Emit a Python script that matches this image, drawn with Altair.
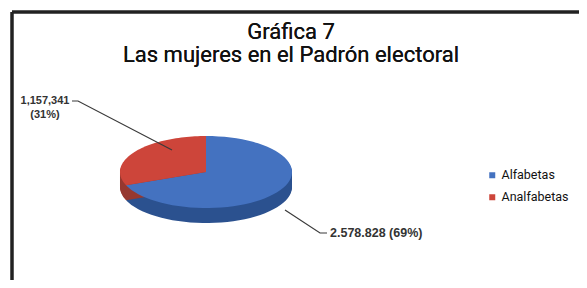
import altair as alt
import pandas as pd

# ---- data ----
categories = ["Alfabetas", "Analfabetas"]
values = [2578828, 1157341]
value_labels = ["2.578.828 (69%)", "1,157,341\n(31%)"]
pie_order = [1, 0]          # Analfabetas slice starts at 12 o'clock
title_lines = ["Gráfica 7", "Las mujeres en el Padrón electoral"]

# ---- layout (chart pixel space) ----
W, H = 571, 272
CX, CY, RX, RY, DEPTH = 198, 164, 86, 36, 15
top_colors = ["#4472c0", "#cd453a"]
side_colors = ["#2b518f", "#963830"]
FONT = "Roboto"

df = pd.DataFrame({"cat": categories, "value": values, "ord": pie_order})

xs = alt.Scale(domain=[0, W], range=[0, W])
ys = alt.Scale(domain=[0, H], range=[0, H])

base = alt.Chart(df).transform_joinaggregate(
    total="sum(value)"
).transform_window(
    cum="sum(value)", sort=[alt.SortField("ord")]
).transform_calculate(
    a0="(90 + 360*(datum.cum - datum.value)/datum.total) * PI / 180",
    a1="(90 + 360*datum.cum/datum.total) * PI / 180",
    k="sequence(-1, 61)",
).transform_flatten(["k"]).transform_calculate(
    ang="datum.a0 + (datum.a1 - datum.a0) * max(datum.k, 0) / 60",
    px=f"datum.k < 0 ? {CX} : {CX} + {RX} * cos(datum.ang)",
    py0=f"datum.k < 0 ? {CY} : {CY} - {RY} * sin(datum.ang)",
)

side = base.transform_calculate(
    z=f"sequence(1, {DEPTH + 1})"
).transform_flatten(["z"]).transform_calculate(
    py="datum.py0 + datum.z"
).mark_line(filled=True, interpolate="linear-closed", strokeWidth=0).encode(
    x=alt.X("px:Q", scale=xs, axis=None),
    y=alt.Y("py:Q", scale=ys, axis=None),
    order="k:Q",
    detail="z:N",
    color=alt.Color("cat:N", scale=alt.Scale(domain=categories, range=side_colors), legend=None),
)

top = base.mark_line(filled=True, interpolate="linear-closed", strokeWidth=0).encode(
    x=alt.X("px:Q", scale=xs, axis=None),
    y=alt.Y("py0:Q", scale=ys, axis=None),
    order="k:Q",
    fill=alt.Fill(
        "cat:N",
        scale=alt.Scale(domain=categories, range=top_colors),
        legend=alt.Legend(
            title=None, orient="none", legendX=478, legendY=161,
            symbolType="square", symbolSize=36, symbolStrokeWidth=0,
            labelFont=FONT, labelFontSize=12.5, labelColor="#111",
            rowPadding=9, labelOffset=3,
        ),
    ),
)

# leader lines (annotation layout)
leaders = pd.DataFrame({
    "cat": ["Analfabetas"] * 3 + ["Alfabetas"] * 3,
    "i": [0, 1, 2, 0, 1, 2],
    "lx": [64, 70, 164, 277, 312, 319],
    "ly": [93, 93, 142, 202, 225, 225],
})
lead = alt.Chart(leaders).mark_line(color="#3a3a3a", strokeWidth=1.2).encode(
    x=alt.X("lx:Q", scale=xs, axis=None),
    y=alt.Y("ly:Q", scale=ys, axis=None),
    order="i:Q",
    detail="cat:N",
)

labs = pd.DataFrame({
    "cat": categories,
    "txt": value_labels,
    "tx": [322, 37],
    "ty": [225, 93],
    "al": ["left", "center"],
})
lab_left = alt.Chart(labs[labs.al == "left"]).mark_text(
    align="left", baseline="middle", font="Liberation Sans", fontWeight="bold",
    fontSize=12.5, color="#333",
).encode(x=alt.X("tx:Q", scale=xs, axis=None), y=alt.Y("ty:Q", scale=ys, axis=None), text="txt:N")
lab_center = alt.Chart(labs[labs.al == "center"]).mark_text(
    align="center", baseline="top", font="Liberation Sans", fontWeight="bold",
    fontSize=11, color="#333", lineBreak="\n", lineHeight=14, dy=-6,
).encode(x=alt.X("tx:Q", scale=xs, axis=None), y=alt.Y("ty:Q", scale=ys, axis=None), text="txt:N")

# frame and titles
frame_top = alt.Chart(df).mark_rule(color="#222", strokeWidth=3).encode(
    x=alt.value(4), x2=alt.value(W), y=alt.value(4))
frame_left = alt.Chart(df).mark_rule(color="#222", strokeWidth=3).encode(
    x=alt.value(4), y=alt.value(4), y2=alt.value(H))
t1 = alt.Chart(df).mark_text(font=FONT, fontSize=22, color="#111", align="center", baseline="middle").encode(
    x=alt.value(283), y=alt.value(24), text=alt.datum(title_lines[0]))
t2 = alt.Chart(df).mark_text(font=FONT, fontSize=22, color="#111", align="center", baseline="middle").encode(
    x=alt.value(283), y=alt.value(47), text=alt.datum(title_lines[1]))

chart = alt.layer(side, top, lead, lab_left, lab_center, frame_top, frame_left, t1, t2).resolve_scale(
    color="independent", fill="independent"
).properties(
    width=W, height=H, padding=0, autosize=alt.AutoSizeParams(type="none")
).configure_view(stroke=None)

chart.save("out.html", embed_options={"renderer": "svg", "actions": False})
